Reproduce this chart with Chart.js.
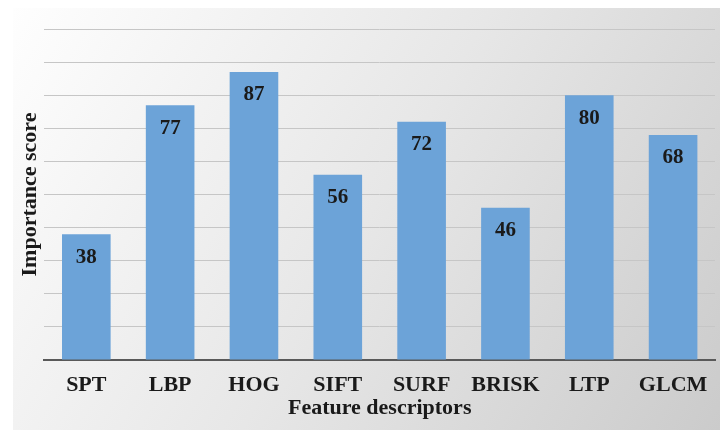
<!DOCTYPE html>
<html>
<head>
<meta charset="utf-8">
<script src="https://cdn.jsdelivr.net/npm/chart.js@4"></script>
<style>
  html, body { margin: 0; padding: 0; background: #fff; }
  #wrap { width: 725px; height: 430px; }
</style>
</head>
<body>
<div id="wrap"><canvas id="chart" width="725" height="430"></canvas></div>
<script>
const descriptors = ['SPT', 'LBP', 'HOG', 'SIFT', 'SURF', 'BRISK', 'LTP', 'GLCM']
const scores = [38, 77, 87, 56, 72, 46, 80, 68]

const serif = '"Liberation Serif", "Times New Roman", serif'

// grey gradient panel behind the whole chart
const panelBg = {
  id: 'panelBg',
  beforeDraw(chart) {
    const ctx = chart.ctx
    const g = ctx.createLinearGradient(13, 8, 720, 430)
    g.addColorStop(0, '#fefefe')
    g.addColorStop(0.5, '#e7e7e7')
    g.addColorStop(1, '#cbcbcb')
    ctx.save()
    ctx.fillStyle = g
    ctx.fillRect(13, 8, 707, 422)
    ctx.restore()
  }
}

// value labels inside the top of each bar
const barValues = {
  id: 'barValues',
  afterDatasetsDraw(chart) {
    const ctx = chart.ctx
    const meta = chart.getDatasetMeta(0)
    ctx.save()
    ctx.font = 'bold 21px ' + serif
    ctx.fillStyle = '#1a1a1a'
    ctx.textAlign = 'center'
    ctx.textBaseline = 'middle'
    meta.data.forEach((bar, i) => {
      ctx.fillText(String(scores[i]), bar.x, bar.y + 23)
    })
    ctx.restore()
  }
}

new Chart(document.getElementById('chart'), {
  type: 'bar',
  data: {
    labels: descriptors,
    datasets: [{
      data: scores,
      backgroundColor: '#6ca3d8',
      borderWidth: 0,
      categoryPercentage: 1,
      barPercentage: 0.58
    }]
  },
  options: {
    responsive: false,
    animation: false,
    layout: { padding: { left: 16, right: 10, top: 29, bottom: 8 } },
    plugins: {
      legend: { display: false },
      tooltip: { enabled: false }
    },
    scales: {
      x: {
        grid: { display: false, drawTicks: false },
        border: { display: true, color: '#595959', width: 2 },
        ticks: {
          color: '#1a1a1a',
          padding: 12,
          font: { family: serif, size: 22, weight: 'bold' }
        },
        title: {
          display: true,
          text: 'Feature descriptors',
          color: '#1a1a1a',
          padding: { top: 0, bottom: 0 },
          font: { family: serif, size: 22, weight: 'bold' }
        },
        afterFit(scale) {
          scale.height = 62
        }
      },
      y: {
        min: 0,
        max: 100,
        ticks: { display: false, stepSize: 10 },
        grid: { color: '#c6c6c6', lineWidth: 1, drawTicks: false },
        border: { display: false },
        title: {
          display: true,
          text: 'Importance score',
          color: '#1a1a1a',
          padding: { top: 1, bottom: 1 },
          font: { family: serif, size: 22, weight: 'bold' }
        }
      }
    }
  },
  plugins: [panelBg, barValues]
})
</script>
</body>
</html>
